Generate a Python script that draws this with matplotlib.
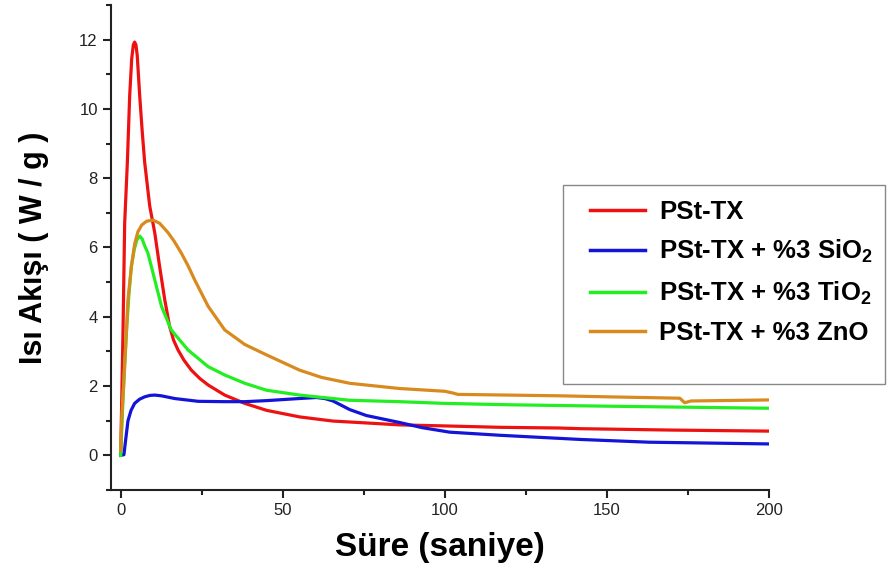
import numpy as np
import matplotlib
matplotlib.use("Agg")
import matplotlib.pyplot as plt
from matplotlib.patches import Rectangle
from matplotlib.ticker import MultipleLocator

plt.rcParams['font.family'] = ['Liberation Sans', 'DejaVu Sans']
plt.rcParams['mathtext.fontset'] = 'custom'
plt.rcParams['mathtext.rm'] = 'Liberation Sans'
plt.rcParams['mathtext.bf'] = 'Liberation Sans:bold'

# values (time in s, heat flow in W/g)
x_red = [0, 0.2, 0.7, 1.23, 2.06, 2.78, 3.4, 3.9, 4.3, 4.7, 5.1, 5.86, 6.6, 7.4, 8.95, 10.5,
         12, 13.6, 15.1, 16.3, 17.7, 19.5, 21.8, 24.4, 27, 32.1, 38.3, 45, 55.2, 65.5, 75,
         86, 100, 117, 135, 142, 170, 200]
y_red = [0, 1.0, 3.5, 6.7, 8.46, 10.39, 11.45, 11.85, 11.93, 11.85, 11.55, 10.39, 9.4, 8.46,
         7.2, 6.43, 5.46, 4.49, 3.72, 3.33, 3.04, 2.75, 2.46, 2.22, 2.03, 1.74, 1.5, 1.30,
         1.11, 0.99, 0.94, 0.88, 0.85, 0.81, 0.79, 0.77, 0.73, 0.70]

x_blue = [0, 1.0, 1.6, 2.25, 3.2, 4.3, 5.8, 7.4, 9, 10.5, 12.5, 16.7, 23.9, 32.1, 38.3, 45,
          50, 55, 60.4, 63, 65.5, 68, 70.7, 75.8, 86, 93, 101.5, 117, 141.7, 163, 200]
y_blue = [0, 0.02, 0.5, 1.0, 1.3, 1.5, 1.62, 1.69, 1.73, 1.74, 1.72, 1.64, 1.56, 1.55, 1.55,
          1.58, 1.61, 1.64, 1.67, 1.64, 1.57, 1.45, 1.32, 1.15, 0.95, 0.8, 0.67, 0.58, 0.46,
          0.38, 0.33]

x_green = [0, 0.3, 0.7, 1.2, 1.76, 2.5, 3.3, 4.2, 5.0, 5.86, 6.6, 7.4, 8.4, 10.5, 12.6, 15.6,
           20.8, 27, 32.1, 38.3, 45, 55.2, 70.7, 86, 100, 120, 150, 175, 200]
y_green = [0, 0.7, 1.59, 2.6, 3.53, 4.6, 5.46, 5.95, 6.22, 6.33, 6.25, 6.05, 5.84, 5.07, 4.3,
           3.62, 3.04, 2.56, 2.32, 2.08, 1.88, 1.74, 1.59, 1.55, 1.5, 1.46, 1.42, 1.39, 1.36]

x_orange = [0, 0.4, 1.23, 2.25, 3.3, 4.3, 5.3, 6.5, 8, 10, 12, 14.6, 16.5, 18.7, 20.8, 22.8,
            27, 32.1, 38.3, 45, 55.2, 62, 70.7, 86, 100, 102.5, 104, 135, 150, 172.5, 174,
            176, 200]
y_orange = [0.14, 1.2, 2.56, 4.49, 5.45, 6.1, 6.45, 6.65, 6.76, 6.79, 6.7, 6.43, 6.18, 5.84,
            5.47, 5.07, 4.3, 3.62, 3.2, 2.9, 2.46, 2.25, 2.08, 1.93, 1.85, 1.8, 1.76, 1.72,
            1.69, 1.65, 1.52, 1.57, 1.6]

labels = ['PSt-TX', 'PSt-TX + %3 SiO$_\\mathbf{2}$', 'PSt-TX + %3 TiO$_\\mathbf{2}$',
          'PSt-TX + %3 ZnO']
colors = ['#ee1111', '#1414d8', '#22ee22', '#d98a1e']

fig = plt.figure(figsize=(8.92, 5.86), dpi=100)
ax = fig.add_axes([0.1244, 0.1638, 0.862 - 0.1244, 0.9915 - 0.1638])

series = [(x_red, y_red), (x_blue, y_blue), (x_green, y_green), (x_orange, y_orange)]
for (xs, ys), lab, c in zip(series, labels, colors):
    ax.plot(xs, ys, color=c, lw=2.3, label=lab, solid_joinstyle='round')

ax.set_xlim(-3, 200)
ax.set_ylim(-1, 13)
ax.xaxis.set_major_locator(MultipleLocator(50))
ax.xaxis.set_minor_locator(MultipleLocator(25))
ax.yaxis.set_major_locator(MultipleLocator(2))
ax.yaxis.set_minor_locator(MultipleLocator(1))
for side in ['top', 'right']:
    ax.spines[side].set_visible(False)
for side in ['left', 'bottom']:
    ax.spines[side].set_linewidth(1.5)
    ax.spines[side].set_color('#222222')
ax.tick_params(which='major', length=6, width=1.5, color='#222222', labelsize=12,
               labelcolor='#222222')
ax.tick_params(which='minor', length=3.5, width=1.5, color='#222222')

ax.set_xlabel('Süre (saniye)', fontsize=24, fontweight='bold', labelpad=10)
ax.set_ylabel('Isı Akışı ( W / g )', fontsize=22, fontweight='bold', labelpad=22)

# legend frame is larger than its content
fig.patches.append(Rectangle((563 / 892, 1 - 384 / 586), 322 / 892, 199 / 586,
                             transform=fig.transFigure, fill=False,
                             edgecolor='#888888', lw=1))
leg = ax.legend(loc='upper left', bbox_to_anchor=(577 / 892, 1 - 187 / 586),
                bbox_transform=fig.transFigure, frameon=False, borderpad=0,
                handlelength=2.15, handletextpad=0.55, labelspacing=0.55,
                prop={'weight': 'bold', 'size': 18.5})
for h in leg.get_lines():
    h.set_linewidth(2.5)

fig.savefig('out.png', dpi=100)
